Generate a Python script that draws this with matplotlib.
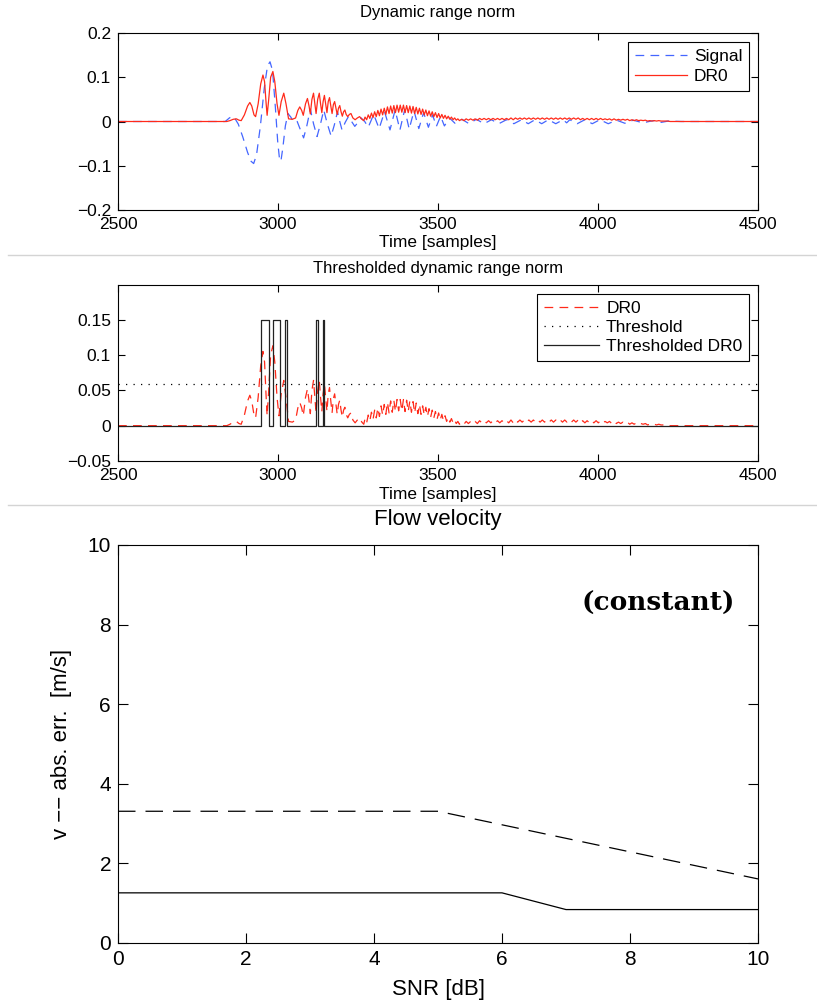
import matplotlib
matplotlib.use("Agg")
import matplotlib.pyplot as plt
from matplotlib.lines import Line2D

plt.rcParams['font.family'] = ['Liberation Sans', 'DejaVu Sans']

# ---------------- data ----------------
# Panel 1/2: DR0 (dynamic range norm) vertices
dr0_t = [2500, 2840, 2850, 2860, 2870, 2878, 2885, 2895, 2905, 2912, 2918, 2925, 2930, 2938, 2946, 2953,
         2958, 2963, 2966, 2971, 2977, 2984, 2990, 2997, 3003, 3010, 3018, 3025, 3033, 3045, 3055, 3062,
         3068, 3074, 3079, 3086, 3092, 3097, 3101, 3106, 3111, 3115, 3119, 3124, 3129, 3133, 3137, 3141,
         3145, 3149, 3153, 3157, 3161, 3165, 3169, 3173, 3177, 3181, 3185, 3189, 3193, 3197, 3201, 3205,
         3209, 3213, 3218, 3223, 3228, 3234, 3241, 3248, 3255, 3262, 3268,
         3272, 3277, 3282, 3287, 3292, 3297, 3302, 3307, 3312, 3317, 3322, 3327, 3332, 3337, 3342, 3347,
         3352, 3357, 3362, 3367, 3372, 3377, 3382, 3387, 3392, 3397, 3402, 3407, 3412, 3417, 3422, 3427,
         3432, 3437, 3442, 3447, 3452, 3457, 3462, 3467, 3472, 3477, 3482, 3487, 3492, 3497, 3502, 3507,
         3512, 3517, 3522, 3527, 3532, 3537, 3542, 3547, 3552, 3557, 3562, 3567,
         3574, 3581, 3588, 3595, 3602, 3609, 3616, 3623, 3630, 3637, 3644, 3651, 3658, 3665, 3672, 3679,
         3686, 3693, 3700, 3707, 3714, 3721, 3728, 3735, 3742, 3749, 3756, 3763, 3770, 3777, 3784, 3791,
         3798, 3805, 3812, 3819, 3826, 3833, 3840, 3847, 3854, 3861, 3868, 3875, 3882, 3889, 3896, 3903,
         3910, 3917, 3924, 3931, 3938, 3945, 3952, 3959, 3966, 3973, 3980, 3987, 3994, 4001, 4008, 4015,
         4022, 4029, 4036, 4043, 4050, 4057, 4064, 4071, 4078, 4085, 4092, 4099, 4106, 4113, 4120, 4127,
         4134, 4141, 4148, 4155, 4162, 4169, 4176, 4183, 4190, 4197, 4204, 4211, 4218, 4225, 4240, 4500]
dr0_v = [0.0, 0.0, 0.002, 0.005, 0.006, 0.003, 0.002, 0.015, 0.035, 0.043, 0.035, 0.015, 0.011, 0.040, 0.085, 0.105,
         0.090, 0.040, 0.014, 0.050, 0.100, 0.113, 0.090, 0.040, 0.014, 0.045, 0.064, 0.040, 0.006, 0.005, 0.008, 0.025,
         0.033, 0.025, 0.014, 0.040, 0.052, 0.035, 0.017, 0.050, 0.064, 0.040, 0.018, 0.050, 0.064, 0.040, 0.020, 0.045,
         0.059, 0.040, 0.020, 0.045, 0.054, 0.035, 0.018, 0.038, 0.045, 0.030, 0.016, 0.030, 0.036, 0.022, 0.012, 0.022,
         0.026, 0.016, 0.011, 0.016, 0.018, 0.008, 0.004, 0.008, 0.011, 0.005, 0.002,
         0.010, 0.004, 0.015, 0.007, 0.019, 0.009, 0.022, 0.011, 0.025, 0.013, 0.028, 0.015, 0.030, 0.016, 0.033, 0.018,
         0.035, 0.019, 0.036, 0.020, 0.037, 0.021, 0.037, 0.021, 0.037, 0.020, 0.036, 0.020, 0.035, 0.019, 0.034, 0.018,
         0.032, 0.017, 0.030, 0.016, 0.028, 0.015, 0.026, 0.013, 0.024, 0.012, 0.022, 0.011, 0.020, 0.009, 0.018, 0.008,
         0.016, 0.007, 0.014, 0.006, 0.012, 0.005, 0.010, 0.004, 0.008, 0.003, 0.006, 0.002,
         0.005, 0.002, 0.006, 0.003, 0.006, 0.003, 0.006, 0.003, 0.007, 0.004, 0.007, 0.004, 0.007, 0.004, 0.007, 0.004,
         0.007, 0.004, 0.007, 0.004, 0.007, 0.004, 0.008, 0.004, 0.008, 0.005, 0.008, 0.005, 0.008, 0.005, 0.008, 0.005,
         0.008, 0.005, 0.008, 0.005, 0.008, 0.005, 0.008, 0.005, 0.008, 0.005, 0.008, 0.005, 0.008, 0.005, 0.008, 0.005,
         0.008, 0.005, 0.008, 0.005, 0.008, 0.004, 0.007, 0.004, 0.007, 0.004, 0.007, 0.004, 0.007, 0.004, 0.007, 0.004,
         0.006, 0.004, 0.006, 0.003, 0.006, 0.003, 0.005, 0.003, 0.005, 0.003, 0.005, 0.002, 0.004, 0.002, 0.004, 0.002,
         0.003, 0.002, 0.003, 0.001, 0.002, 0.001, 0.002, 0.001, 0.002, 0.001, 0.001, 0.001, 0.001, 0.0, 0.0, 0.0]

# Panel 1: raw signal vertices
sig_t = [2500, 2835, 2848, 2858, 2866, 2876, 2890, 2905, 2916, 2924, 2933, 2945, 2957, 2967, 2975, 2983,
         2992, 2999, 3004, 3009, 3015, 3023, 3031, 3040, 3050, 3060, 3068, 3080, 3090, 3101, 3111, 3122,
         3133, 3143, 3154, 3166, 3176, 3186, 3193, 3200, 3210, 3220, 3230, 3240, 3250, 3260, 3271, 3282,
         3299, 3316, 3333, 3350, 3366, 3381, 3396, 3410, 3425, 3440, 3455, 3470, 3483, 3495, 3508, 3520,
         3536, 3553, 3575, 3597, 3620, 3644, 3667, 3690, 3714, 3737, 3761, 3782, 3803, 3824, 3845, 3868,
         3891, 3902, 3912, 3935, 3959, 3982, 4006, 4032, 4058, 4084, 4110, 4140, 4173, 4197, 4220, 4260, 4500]
sig_v = [0.0, 0.0, 0.008, 0.012, 0.006, -0.006, -0.035, -0.070, -0.090, -0.095, -0.075, -0.010, 0.075, 0.125, 0.135, 0.115,
         0.030, -0.045, -0.080, -0.090, -0.060, -0.010, 0.018, 0.010, -0.002, 0.000, -0.015, -0.037, -0.010, 0.028, -0.005, -0.034,
         -0.005, 0.026, -0.005, -0.033, -0.008, 0.022, 0.000, -0.019, -0.002, 0.011, 0.000, -0.011, -0.002, 0.008, 0.000, -0.013,
         0.016, -0.016, 0.022, -0.019, 0.026, -0.019, 0.027, -0.017, 0.024, -0.016, 0.020, -0.013, 0.015, -0.011, 0.012, -0.010,
         0.008, -0.004, 0.005, -0.005, 0.005, -0.005, 0.004, -0.005, 0.004, -0.005, 0.004, -0.005, 0.004, -0.005, 0.004, -0.005,
         0.004, -0.003, 0.004, -0.005, 0.004, -0.005, 0.004, -0.005, 0.003, -0.004, 0.003, -0.003, 0.002, -0.002, 0.001, 0.0, 0.0]

# Panel 2: threshold and thresholded DR0 pulses
threshold = 0.059
pulse_start = [2948, 2985, 3022, 3119, 3140]
pulse_end = [2972, 3007, 3028, 3125, 3145]
pulse_height = 0.15
time_range = [2500, 4500]

# Panel 3: flow velocity error vs SNR
snr = [0, 1, 2, 3, 4, 5, 6, 7, 8, 9, 10]
err_dashed = [3.31, 3.31, 3.31, 3.31, 3.31, 3.31, 2.97, 2.63, 2.29, 1.95, 1.61]
err_solid = [1.26, 1.26, 1.26, 1.26, 1.26, 1.26, 1.26, 0.84, 0.84, 0.84, 0.84]

# ---------------- figure ----------------
W, H = 817, 1000
fig = plt.figure(figsize=(W / 100, H / 100), dpi=100)

def rect(left, top, right, bottom):
    return [left / W, 1 - bottom / H, (right - left) / W, (bottom - top) / H]

ax1 = fig.add_axes(rect(118, 33, 758, 210))
ax2 = fig.add_axes(rect(118, 285, 758, 461))
ax3 = fig.add_axes(rect(118, 545, 758, 943))

blue = '#4466ff'
red = '#ff2a1a'

def style(ax, fs):
    ax.tick_params(direction='in', top=True, right=True, length=5, width=0.8,
                   labelsize=fs, pad=5)
    for s in ax.spines.values():
        s.set_linewidth(0.8)

# Panel 1
ax1.plot(sig_t, sig_v, color=blue, lw=0.9, ls=(0, (7, 5)), label='Signal')
ax1.plot(dr0_t, dr0_v, color=red, lw=0.9, label='DR0')
ax1.set_xlim(2500, 4500)
ax1.set_ylim(-0.2, 0.2)
ax1.set_xticks([2500, 3000, 3500, 4000, 4500])
ax1.set_yticks([-0.2, -0.1, 0, 0.1, 0.2])
ax1.set_yticklabels(['\u22120.2', '\u22120.1', '0', '0.1', '0.2'])
style(ax1, 12.5)
leg1 = ax1.legend(loc='upper right', fancybox=False, edgecolor='black', framealpha=1,
                  fontsize=12.5, handlelength=3.0, handletextpad=0.4, labelspacing=0.3,
                  borderaxespad=0.5, borderpad=0.4)
leg1.get_frame().set_linewidth(0.8)

# Panel 2
ax2.plot(dr0_t, dr0_v, color=red, lw=0.9, ls=(0, (7, 5)), label='DR0')
ax2.plot(time_range, [threshold, threshold], color='black', lw=0.9, ls=(0, (1, 5)), label='Threshold')
step_t = [time_range[0]]
step_v = [0]
for a, b in zip(pulse_start, pulse_end):
    step_t += [a, a, b, b]
    step_v += [0, pulse_height, pulse_height, 0]
step_t.append(time_range[1])
step_v.append(0)
ax2.plot(step_t, step_v, color='#222222', lw=0.9, label='Thresholded DR0')
ax2.set_xlim(2500, 4500)
ax2.set_ylim(-0.05, 0.199)
ax2.set_xticks([2500, 3000, 3500, 4000, 4500])
ax2.set_yticks([-0.05, 0, 0.05, 0.1, 0.15])
ax2.set_yticklabels(['\u22120.05', '0', '0.05', '0.1', '0.15'])
style(ax2, 12.5)
leg2 = ax2.legend(loc='upper right', fancybox=False, edgecolor='black', framealpha=1,
                  fontsize=12.5, handlelength=3.2, handletextpad=0.4, labelspacing=0.22,
                  borderaxespad=0.5, borderpad=0.4)
leg2.get_frame().set_linewidth(0.8)

# Panel 3
ax3.plot(snr, err_dashed, color='black', lw=0.9, ls=(0, (14, 8)))
ax3.plot(snr, err_solid, color='black', lw=0.9)
ax3.set_xlim(0, 10)
ax3.set_ylim(0, 10)
ax3.set_xticks([0, 2, 4, 6, 8, 10])
ax3.set_yticks([0, 2, 4, 6, 8, 10])
style(ax3, 15)
ax3.tick_params(length=7)
ax3.text(9.64, 8.54, '(constant)', ha='right', va='center', fontsize=19,
         fontweight='bold', family='DejaVu Serif')

# Titles / labels (figure text)
def ftext(x, y, s, **kw):
    fig.text(x / W, 1 - y / H, s, ha='center', va='center', **kw)

ftext(438, 13, 'Dynamic range norm', fontsize=12)
ftext(438, 243, 'Time [samples]', fontsize=12.5)
ftext(438, 268, 'Thresholded dynamic range norm', fontsize=12)
ftext(438, 495, 'Time [samples]', fontsize=12.5)
ftext(438, 520, 'Flow velocity', fontsize=16)
ftext(438, 990, 'SNR [dB]', fontsize=16)
ftext(62, 744, 'v \u2212\u2212 abs. err.  [m/s]', fontsize=16, rotation=90)

# Separator lines
for yy in (255, 505):
    fig.add_artist(Line2D([8 / W, 1], [1 - yy / H, 1 - yy / H], color='#d4d4d4', lw=1.0))

fig.savefig('out.png', dpi=100)
